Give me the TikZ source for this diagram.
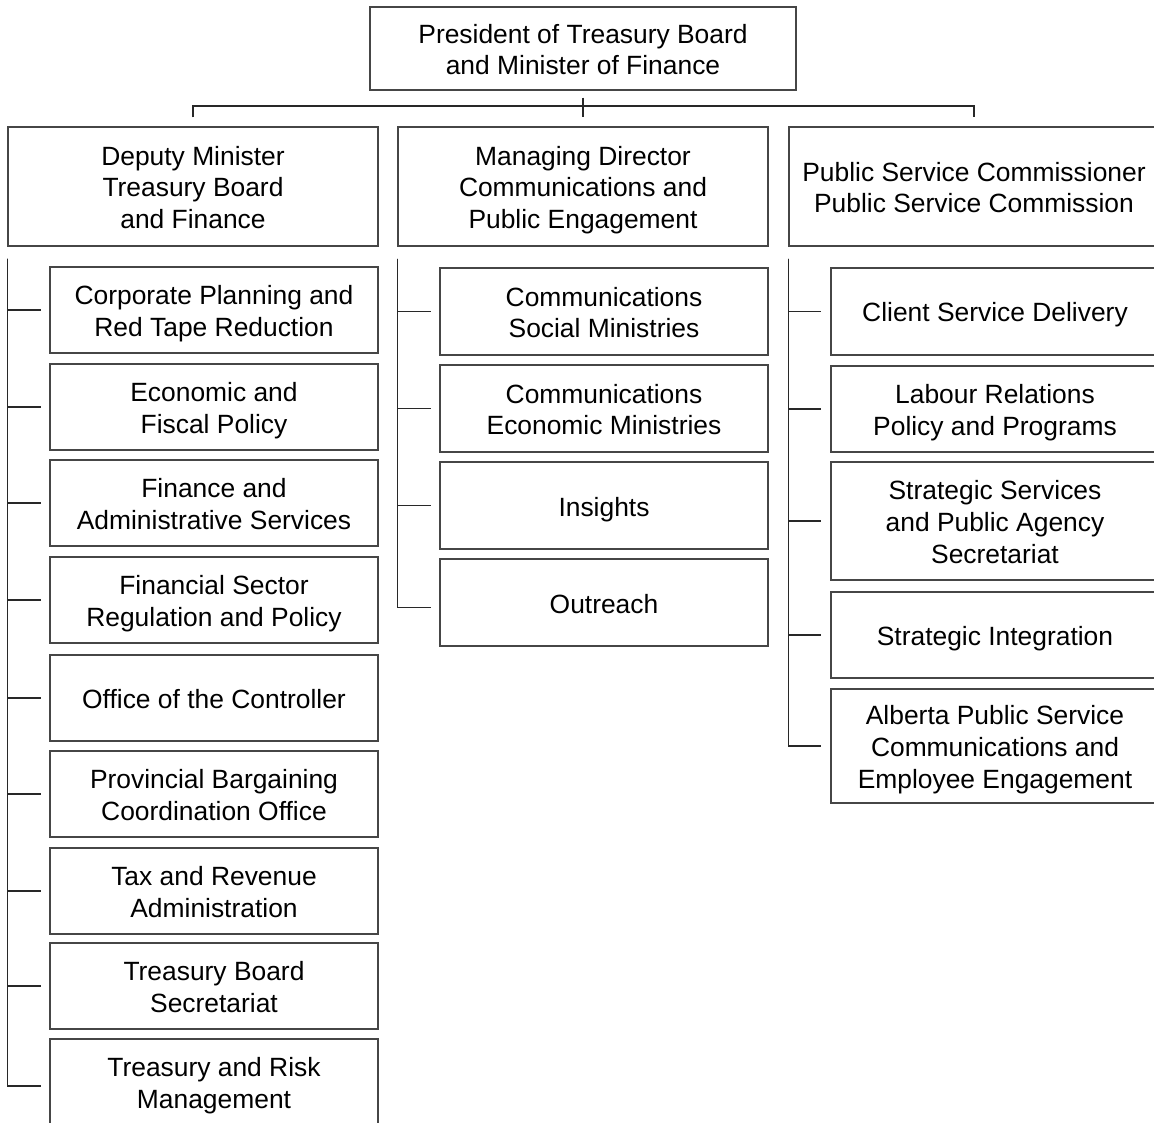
\documentclass[tikz,border=0pt]{standalone}
\usepackage{fontspec}
\setmainfont{Liberation Sans}
\definecolor{boxgray}{RGB}{70,70,70}
\definecolor{linegray}{RGB}{40,40,40}
\newcommand\Ln[1]{\rule{0pt}{21pt}\smash{#1}}
\begin{document}
\begin{tikzpicture}[x=1pt,y=-1pt,
  box/.style={draw=boxgray, line width=1.4pt, rectangle, align=center, inner sep=2pt,
    font=\fontsize{26.4}{31.8}\selectfont, text=black},
  lvtwo/.style={box, minimum width=370pt, minimum height=119pt},
  child/.style={box, minimum width=328pt, minimum height=86pt},
  link/.style={draw=linegray, line width=1.3pt}]
\useasboundingbox (0,0) rectangle (1154,1123);
\clip (0,0) rectangle (1154,1123);
\fill[white] (0,0) rectangle (1154,1123);

% top
\node[box, minimum width=426pt, minimum height=83pt] (pres) at (583,48.5)
  {\Ln{President of Treasury Board}\\\Ln{and Minister of Finance}};

% level 2
\node[lvtwo] (dm) at (193,186.5) {\Ln{Deputy Minister}\\\Ln{Treasury Board}\\\Ln{and Finance}};
\node[lvtwo] (md) at (583,186.5) {\Ln{Managing Director}\\\Ln{Communications and}\\\Ln{Public Engagement}};
\node[lvtwo] (psc) at (974,186.5) {\Ln{Public Service Commissioner}\\\Ln{Public Service Commission}};

% column A
\node[child] (a1) at (214,310) {\Ln{Corporate Planning and}\\\Ln{Red Tape Reduction}};
\node[child] (a2) at (214,407) {\Ln{Economic and}\\\Ln{Fiscal Policy}};
\node[child] (a3) at (214,503) {\Ln{Finance and}\\\Ln{Administrative Services}};
\node[child] (a4) at (214,600) {\Ln{Financial Sector}\\\Ln{Regulation and Policy}};
\node[child] (a5) at (214,698) {\Ln{Office of the Controller}};
\node[child] (a6) at (214,794) {\Ln{Provincial Bargaining}\\\Ln{Coordination Office}};
\node[child] (a7) at (214,891) {\Ln{Tax and Revenue}\\\Ln{Administration}};
\node[child] (a8) at (214,986) {\Ln{Treasury Board}\\\Ln{Secretariat}};
\node[child] (a9) at (214,1082) {\Ln{Treasury and Risk}\\\Ln{Management}};

% column B
\node[child, minimum height=87pt] (b1) at (604,311.5) {\Ln{Communications}\\\Ln{Social Ministries}};
\node[child, minimum height=87pt] (b2) at (604,408.5) {\Ln{Communications}\\\Ln{Economic Ministries}};
\node[child, minimum height=87pt] (b3) at (604,505.5) {\Ln{Insights}};
\node[child, minimum height=87pt] (b4) at (604,602.5) {\Ln{Outreach}};

% column C
\node[child, minimum height=87pt] (c1) at (995,311.5) {\Ln{Client Service Delivery}};
\node[child, minimum height=86pt] (c2) at (995,409) {\Ln{Labour Relations}\\\Ln{Policy and Programs}};
\node[child, minimum height=118pt] (c3) at (995,521) {\Ln{Strategic Services}\\\Ln{and Public Agency}\\\Ln{Secretariat}};
\node[child, minimum height=86pt] (c4) at (995,635) {\Ln{Strategic Integration}};
\node[child, minimum height=114pt] (c5) at (995,746) {\Ln{Alberta Public Service}\\\Ln{Communications and}\\\Ln{Employee Engagement}};

% top connectors
\coordinate (bar) at (583,106);
\draw[link] ([yshift=-7pt]pres.south) -- ([yshift=9pt]md.north);
\draw[link] ([yshift=9pt]dm.north) |- (bar) -| ([yshift=9pt]psc.north);

% trunks
\coordinate (ta) at ([yshift=-12pt]dm.south west);
\coordinate (tb) at ([yshift=-12pt]md.south west);
\coordinate (tc) at ([yshift=-12pt]psc.south west);

\foreach \c in {a1,a2,a3,a4,a5,a6,a7,a8}
  \draw[link] (ta) |- ([xshift=-8pt]\c.west);
\draw[link] (ta) |- ([xshift=-8pt,yshift=-4pt]a9.west);

\foreach \c in {b1,b2,b3}
  \draw[link] (tb) |- ([xshift=-8pt]\c.west);
\draw[link] (tb) |- ([xshift=-8pt,yshift=-5pt]b4.west);

\foreach \c in {c1,c2,c3,c4,c5}
  \draw[link] (tc) |- ([xshift=-9pt]\c.west);
\end{tikzpicture}
\end{document}
